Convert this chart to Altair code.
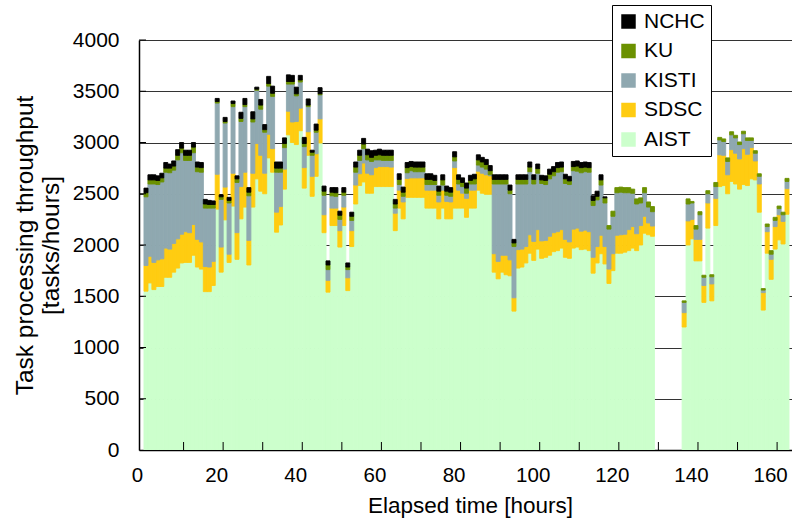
import altair as alt
import pandas as pd

# hourly bars (hours 129-135 have no data)
hours = list(range(0, 129)) + list(range(136, 163))

AIST = [1550, 1630, 1565, 1595, 1595, 1685, 1685, 1735, 1775, 1825,
        1830, 1830, 1900, 1785, 1765, 1545, 1545, 1605, 2350, 1735,
        2245, 1830, 2380, 1860, 2255, 2370, 1805, 2370, 2645, 2525,
        2500, 2850, 2710, 2125, 2195, 2545, 3075, 3000, 2980, 3115,
        2555, 2875, 2475, 2670, 2995, 2120, 1540, 2190, 2190, 1980,
        2190, 1555, 1985, 2400, 2580, 2615, 2505, 2505, 2570, 2570,
        2570, 2570, 2570, 2140, 2360, 2255, 2465, 2465, 2465, 2465,
        2465, 2360, 2360, 2360, 2255, 2360, 2255, 2255, 2360, 2360,
        2360, 2270, 2360, 2360, 2535, 2505, 2495, 2495, 1735, 1670,
        1735, 1710, 1700, 1355, 1775, 1785, 1825, 1920, 1850, 1960,
        1870, 1880, 1900, 1935, 1945, 1970, 1880, 1870, 1970, 1980,
        1955, 1960, 1945, 1725, 1825, 1915, 1815, 1625, 1750, 1920,
        1920, 1930, 1945, 1970, 1945, 2000, 2115, 2100, 2085,
        1200, 2000, 2060, 1845, 1845, 1440, 2165, 1455, 2190, 2570,
        2580, 2500, 2620, 2595, 2545, 2590, 2580, 2645, 2635, 2320,
        1365, 1920, 1665, 1960, 2050, 2010, 2300]

SDSC = [250, 260, 265, 260, 270, 285, 275, 280, 285, 280,
        300, 290, 300, 270, 265, 245, 240, 235, 340, 245,
        320, 80, 320, 260, 315, 340, 240, 330, 345, 350,
        200, 230, 230, 195, 180, 195, 230, 200, 225, 220,
        200, 230, 195, 220, 235, 175, 115, 170, 170, 160,
        180, 125, 155, 185, 115, 185, 195, 180, 185, 195,
        195, 195, 190, 170, 175, 165, 185, 190, 190, 190,
        190, 175, 175, 175, 165, 175, 170, 165, 395, 175,
        145, 185, 175, 175, 185, 195, 190, 180, 180, 170,
        165, 190, 155, 130, 180, 175, 160, 180, 185, 190,
        170, 165, 185, 185, 185, 180, 175, 160, 185, 185,
        180, 185, 185, 155, 160, 180, 170, 140, 165, 175,
        180, 175, 205, 210, 165, 190, 165, 115, 100,
        140, 235, 190, 210, 210, 165, 245, 165, 265, 310,
        295, 185, 310, 300, 295, 350, 305, 305, 185, 275,
        170, 210, 195, 220, 245, 220, 250]

KISTI = [670, 705, 765, 735, 750, 740, 745, 715, 770, 795,
         695, 705, 700, 660, 680, 570, 575, 520, 695, 465,
         625, 500, 650, 490, 635, 640, 435, 500, 520, 450,
         400, 470, 510, 390, 335, 210, 265, 370, 250, 255,
         205, 245, 205, 210, 235, 190, 105, 120, 115, 110,
         115, 80, 100, 125, 130, 140, 130, 130, 75, 65,
         60, 60, 65, 50, 55, 55, 55, 70, 60, 60,
         60, 55, 55, 55, 65, 50, 60, 55, 65, 60,
         65, 50, 60, 60, 60, 60, 55, 10, 680, 755,
         695, 695, 645, 500, 640, 635, 610, 615, 560, 550,
         560, 545, 560, 555, 580, 565, 545, 560, 570, 555,
         570, 570, 580, 505, 455, 490, 425, 390, 365, 415,
         415, 405, 360, 325, 290, 220, 230, 155, 140,
         100, 165, 160, 100, 240, 80, 90, 70, 115, 145,
         135, 130, 145, 150, 140, 145, 135, 70, 75, 75,
         25, 50, 50, 60, 60, 65, 70]

KU = [40, 40, 40, 40, 40, 40, 45, 40, 45, 45,
      50, 50, 55, 45, 45, 40, 35, 35, 15, 25,
      15, 25, 30, 35, 30, 20, 35, 30, 10, 40,
      25, 25, 30, 40, 40, 40, 25, 25, 20, 20,
      30, 15, 30, 20, 10, 40, 45, 35, 35, 40,
      30, 25, 40, 50, 50, 45, 50, 40, 45, 50,
      50, 50, 50, 40, 50, 40, 50, 40, 45, 45,
      45, 50, 50, 40, 40, 50, 40, 40, 40, 45,
      40, 50, 35, 50, 50, 50, 45, 40, 45, 45,
      45, 45, 35, 35, 45, 45, 45, 45, 45, 45,
      35, 40, 45, 40, 45, 45, 45, 35, 40, 50,
      50, 45, 45, 50, 35, 50, 50, 35, 50, 50,
      50, 50, 50, 40, 50, 50, 50, 50, 50,
      15, 50, 15, 35, 30, 20, 30, 20, 40, 25,
      25, 35, 30, 25, 25, 25, 25, 25, 25, 25,
      15, 25, 35, 30, 25, 25, 30]

NCHC = [45, 50, 50, 45, 45, 55, 40, 50, 55, 55,
        50, 50, 45, 50, 50, 45, 40, 35, 30, 20,
        40, 30, 25, 30, 60, 60, 45, 70, 20, 55,
        50, 70, 70, 60, 60, 55, 65, 60, 65, 45,
        60, 60, 20, 60, 60, 50, 40, 45, 50, 40,
        45, 40, 40, 50, 50, 55, 55, 65, 50, 55,
        50, 50, 50, 45, 55, 50, 50, 50, 50, 50,
        50, 55, 55, 50, 50, 50, 50, 45, 50, 45,
        45, 50, 50, 45, 50, 45, 50, 50, 45, 45,
        45, 45, 50, 35, 45, 45, 45, 50, 45, 45,
        45, 45, 50, 50, 50, 50, 45, 45, 50, 50,
        50, 50, 50, 45, 50, 50, 10, 0, 0, 0,
        0, 0, 0, 0, 0, 0, 0, 0, 0,
        0, 0, 0, 0, 0, 0, 0, 0, 0, 0,
        0, 0, 0, 0, 0, 0, 0, 0, 0, 0,
        0, 0, 0, 0, 0, 0, 0]

series_names = ["AIST", "SDSC", "KISTI", "KU", "NCHC"]
legend_order = ["NCHC", "KU", "KISTI", "SDSC", "AIST"]
legend_colors = ["#000000", "#6b9100", "#8fa8b0", "#ffcc11", "#ccffcc"]

y_ticks = list(range(0, 4001, 500))
x_labels = list(range(0, 161, 20))
x_ticks = list(range(10, 161, 10))

rows = []
for k, (name, vals) in enumerate(zip(series_names, [AIST, SDSC, KISTI, KU, NCHC])):
    for h, v in zip(hours, vals):
        if v > 0:
            rows.append({"mid": h + 0.5, "series": name, "value": v, "ord": k})
df = pd.DataFrame(rows)

W, H = 653, 410
XMAX = 162.5
BAR_W = W / XMAX
FONT = "Liberation Sans"

cscale = alt.Scale(domain=legend_order, range=legend_colors)
xscale = alt.Scale(domain=[0, XMAX], nice=False, zero=False)
yscale = alt.Scale(domain=[0, 4000], nice=False)

x_axis = alt.Axis(title="Elapsed time [hours]", values=x_labels, format="d", ticks=False, tickSize=0,
                  grid=False, labelFlush=False, labelPadding=15, labelOffset=-7, labelFontSize=20.5,
                  titleX=331, titleY=62, titleBaseline="alphabetic", titleAlign="center",
                  titleFontSize=22.5)
y_axis = alt.Axis(title=["Task processing throughput", "[tasks/hours]"], values=y_ticks, format="d",
                  ticks=False, tickSize=0, grid=True, gridColor="#333333", gridWidth=1,
                  labelPadding=20, titleAngle=-90, titleX=-107, titleY=H / 2,
                  titleAlign="center", titleBaseline="alphabetic", titleLineHeight=26,
                  titleFontSize=24.5)

bars = alt.Chart(df).mark_bar(orient="vertical", width=BAR_W, strokeWidth=0.9, clip=True).encode(
    x=alt.X("mid:Q", scale=xscale, axis=x_axis),
    y=alt.Y("value:Q", stack="zero", scale=yscale, axis=y_axis),
    color=alt.Color("series:N", scale=cscale,
                    legend=alt.Legend(title=None, orient="none", legendX=473, legendY=-35,
                                      fillColor="white", strokeColor="black", padding=6,
                                      symbolType="square", symbolSize=210, symbolStrokeWidth=0,
                                      labelFont=FONT, labelFontSize=21, labelColor="black",
                                      rowPadding=7.5, labelOffset=5)),
    stroke=alt.Stroke("series:N", scale=cscale, legend=None),
    order=alt.Order("ord:Q", sort="ascending"),
)

ytick_layer = alt.Chart(pd.DataFrame({"mid": [0.0] * 8, "value": y_ticks[1:]})).mark_rule(
    color="black", strokeWidth=1).encode(
    y=alt.Y("value:Q", scale=yscale, axis=y_axis), x=alt.value(0), x2=alt.value(7))

xtick_layer = alt.Chart(pd.DataFrame({"mid": x_ticks})).mark_rule(color="black", strokeWidth=1).encode(
    x=alt.X("mid:Q", scale=xscale, axis=x_axis), y=alt.value(H), y2=alt.value(H - 8))

chart = alt.layer(bars, ytick_layer, xtick_layer).properties(
    width=W, height=H,
    padding={"left": 139, "top": 40, "right": 0, "bottom": 74},
    autosize=alt.AutoSizeParams(type="none"),
    background="white",
).configure_view(stroke=None).configure_axis(
    labelFont=FONT, labelFontSize=21, labelColor="black",
    titleFont=FONT, titleFontWeight="normal", titleColor="black",
    domainColor="black", domainWidth=1.5,
)

chart.save("out.html", embed_options={"renderer": "svg", "actions": False})
